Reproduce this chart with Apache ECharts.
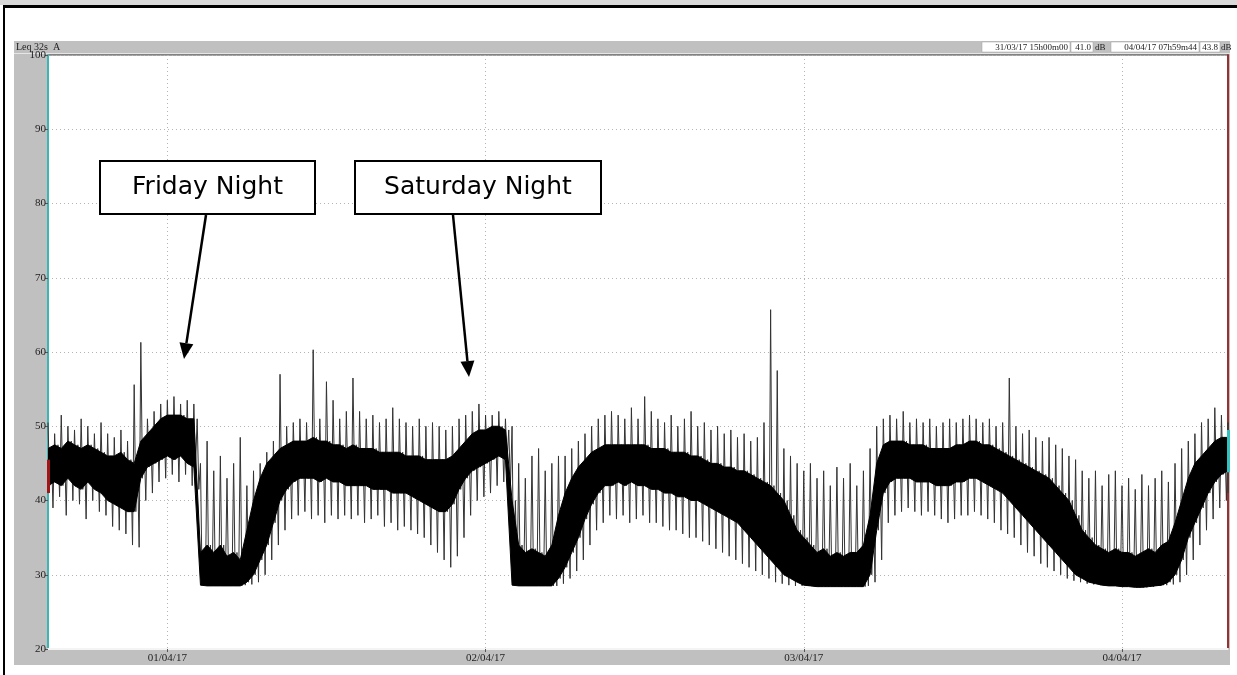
<!DOCTYPE html>
<html><head><meta charset="utf-8">
<script src="https://cdn.jsdelivr.net/npm/echarts@6/dist/echarts.min.js"></script>
<style>html,body{margin:0;padding:0;background:#fff}#c{width:1237px;height:675px}</style>
</head><body><div id="c"></div>
<script>
// ---- text / labels ----
const panelTitle = 'Leq 32s  A';
const startLabel = '31/03/17 15h00m00';
const startValue = '41.0';
const endLabel = '04/04/17 07h59m44';
const endValue = '43.8';
const unitLabel = 'dB';
const dateLabels = ['01/04/17', '02/04/17', '03/04/17', '04/04/17'];
const annotations = ['Friday Night', 'Saturday Night'];
const yTicks = [20, 30, 40, 50, 60, 70, 80, 90, 100];

// ---- data: envelopes of the Leq trace per 30-minute window (dB), from 31/03/17 15:00 ----
const stepHours = 0.5;
const outerHi = [50.5,49,51.5,50,49.5,51,50,49,50.5,49,48.5,49.5,48,55.6,61.3,
  51,52,53,53.5,54,53,53.5,53,45,48,44,46,43,45,48.5,
  42,44,45,46.5,48,57,50,50.5,51,50.5,60.3,51,56,53.5,51,
  52,56.5,52,51,51.5,50.5,51,52.5,51,50.5,50,51,50,50.5,50,49.5,50,51,51.5,52,53,51.5,51.5,52,51,
  50,45,43,46,47,44,45,46,46,47,48,49,50,51,
  51.5,52,51.5,51,52.5,51,54,52,51,50.5,51.5,50,51,52,50,
  50.5,49.5,50,49,49.5,48.5,49,48,48.5,50.5,65.7,57.5,
  47,46,45,44,45,43,44,42,44.5,43,45,42,44,
  47,50,51,51.5,51,52,50.5,51,50.5,51,50,50.5,51,50.5,51,51.5,51,50.5,51,50,50.5,
  56.5,50,49,49.5,48.5,48,48.5,47.5,47,46,45.5,44,43,
  44,42,43.5,44,42,43,41.5,43.5,42,43,44,42.5,45,
  47,48,49,50.5,51,52.5,51.5,50.5];
const outerLo = [39,40.5,38,40,39.5,37.5,40,38.5,38,36.5,36,35.5,34,33.7,
  40,41,42.5,43,43.5,42.5,43.5,42,41.5,28.6,
  28.6,28.5,28.5,28.5,28.5,28.6,
  28.7,29,30,32,34,36,37.5,38,38.5,37.5,38,37,38,37.5,38,
  37.5,38,37,37.5,38,36.5,37,36,36.5,36,35.5,35,34,33,32,31,32.5,35,38,40,40.5,41,42,42.5,42,
  28.6,28.5,28.5,28.5,28.5,28.5,28.5,
  28.8,29.5,30.5,32,34,36,37,
  38,37.5,38,37,37.5,38,37,37,36.5,36,36,35.5,35,35,34.5,
  34,33.5,33,32.5,32,31.5,31,30.5,30,29.5,29,28.8,
  28.6,28.5,28.5,28.5,28.4,28.4,28.4,28.4,28.4,28.4,28.4,28.4,28.5,
  29,32,37,38,38.5,39,38.5,38,38.5,38,37.5,37,37.5,38,38,38.5,38,37.5,37,36,35.5,
  35,34,33,32.5,31.5,31,30.5,30,29.5,29.2,29,28.8,28.7,
  28.6,28.5,28.5,28.4,28.4,28.4,28.3,28.3,28.4,28.5,28.6,28.7,29,
  30,32,34,36,37.5,39,40,41];
const coreHi = [47,47.5,47,48,47.5,47,47.5,47,46.5,46,46,46.5,45.5,45,
  48,49,50,51,51.5,51.5,51.5,51,51,33,
  34,33,34,32.5,33,32,
  36,40,43,45,46,47,47.5,48,48,48,48.5,48,48,47.5,47.5,
  47,47.5,47,47,47,46.5,46.5,46.5,46.5,46,46,46,45.5,45.5,45.5,45.5,46,47,48,49,49.5,49.5,50,50,49.5,
  40,34,33,33.5,33,32.5,34,
  38,41,43,44.5,45.5,46.5,47,
  47.5,47.5,47.5,47.5,47.5,47.5,47.5,47,47,47,46.5,46.5,46.5,46,46,
  45.5,45,45,44.5,44.5,44,44,43.5,43,42.5,42,41,
  40,38,36,35,34,33,33.5,32.5,33,32.5,33,33,34,
  38,45,47.5,48,48,48,47.5,47.5,47.5,47,47,47,47,47.5,47.5,48,48,47.5,47.5,47,46.5,
  46,45.5,45,44.5,44,43.5,43,42,41,40,38,36,35,
  34,33.5,33,33.5,33,33,32.5,33,33.5,33,34,34.5,37,
  40,43,45,46,47,48,48.5,48.5];
const coreLo = [42,42.5,42,43,42,41.5,42.5,41.5,41,40,39.5,39,38.5,38.5,
  43,44.5,45,45.5,46,45.5,46,45,44.5,28.6,
  28.5,28.5,28.5,28.5,28.5,28.5,
  29,30,32,34,37,40,41.5,42.5,43,43,43,42.5,43,42.5,42.5,
  42,42,42,42,41.5,41.5,41.5,41,41,41,40.5,40,39.5,39,38.5,38.5,39.5,41.5,43,44,44.5,45,45.5,46,45.5,
  28.6,28.5,28.5,28.5,28.5,28.5,28.5,
  29.5,31,33,35,37.5,39.5,41,
  42,42,42.5,42,42.5,42,42,41.5,41.5,41,41,40.5,40.5,40,40,
  39.5,39,38.5,38,37.5,37,36,35,34,33,32,31,
  30,29.5,29,28.6,28.5,28.4,28.4,28.4,28.4,28.4,28.4,28.4,28.4,
  30,36,41,42.5,43,43,43,42.5,42.5,42.5,42,42,42,42.5,42.5,43,43,42.5,42,41.5,41,
  40,39,38,37,36,35,34,33,32,31,30,29.5,29,
  28.8,28.6,28.5,28.5,28.4,28.4,28.3,28.3,28.4,28.5,28.6,29,30,
  32,35,37,39,41,42.5,43.5,44];
const cursorStartRange = [41, 45.5];
const cursorEndRange = [43.8, 49.5];

// ---- build ----
const HOUR = 3600e3;
const T0 = Date.UTC(2017, 2, 31, 15, 0, 0);
const TEND = Date.UTC(2017, 3, 4, 7, 59, 44);
const tAt = h => Math.min(T0 + h * HOUR, TEND);
const midnights = dateLabels.map(s => {
  const [d, m, y] = s.split('/').map(Number);
  return Date.UTC(2000 + y, m - 1, d);
});

// trace: within each window visit max, core low, core high, min
const zig = [];
outerHi.forEach((v, k) => {
  const t = k * stepHours, q = stepHours / 4;
  zig.push([tAt(t), v]);
  zig.push([tAt(t + q), coreLo[k]]);
  zig.push([tAt(t + 2 * q), coreHi[k]]);
  zig.push([tAt(t + 3 * q), outerLo[k]]);
});

const serif = '"Liberation Serif", "Times New Roman", serif';
const sans = '"DejaVu Sans", "Liberation Sans", sans-serif';

function arrow(x1, y1, x2, y2) {
  const dx = x2 - x1, dy = y2 - y1, L = Math.hypot(dx, dy);
  const ux = dx / L, uy = dy / L, hl = 16, hw = 7;
  const bx = x2 - ux * hl, by = y2 - uy * hl;
  return [
    {type: 'line', z: 100, shape: {x1, y1, x2: bx, y2: by}, style: {stroke: '#000', lineWidth: 2.5}},
    {type: 'polygon', z: 100, shape: {points: [[x2, y2], [bx - uy * hw, by + ux * hw], [bx + uy * hw, by - ux * hw]]}, style: {fill: '#000'}}
  ];
}
function box(x, y, w, h, text) {
  return [
    {type: 'rect', z: 100, shape: {x, y, width: w, height: h}, style: {fill: '#fff', stroke: '#000', lineWidth: 2}},
    {type: 'text', z: 101, x: x + w / 2, y: y + h / 2, style: {text, font: '25px ' + sans, fill: '#000', align: 'center', verticalAlign: 'middle'}}
  ];
}
function infoBox(x, w, text) {
  return [
    {type: 'rect', z: 5, shape: {x, y: 42, width: w, height: 10}, style: {fill: '#fff', stroke: '#a0a0a0', lineWidth: 0.5}},
    {type: 'text', z: 6, x: x + w - 2, y: 47.5, style: {text, font: '9px ' + serif, fill: '#222', align: 'right', verticalAlign: 'middle'}}
  ];
}

const graphic = [
  {type: 'rect', z: -10, shape: {x: 0, y: 0, width: 1237, height: 5}, style: {fill: '#d9d9d9'}},
  {type: 'rect', z: -10, shape: {x: 3, y: 5, width: 1234, height: 3}, style: {fill: '#000'}},
  {type: 'rect', z: -10, shape: {x: 3, y: 5, width: 2, height: 670}, style: {fill: '#000'}},
  {type: 'rect', z: -10, shape: {x: 14, y: 41, width: 1216, height: 624}, style: {fill: '#c0c0c0'}},
  {type: 'rect', z: -9, shape: {x: 14, y: 53, width: 1216, height: 1}, style: {fill: '#e6e6e6'}},
  {type: 'text', z: 5, x: 16, y: 47.5, style: {text: panelTitle, font: '10px ' + serif, fill: '#222', verticalAlign: 'middle'}},
  ...infoBox(982, 88, startLabel),
  ...infoBox(1071, 22, startValue),
  {type: 'text', z: 6, x: 1095, y: 47.5, style: {text: unitLabel, font: '9px ' + serif, fill: '#222', verticalAlign: 'middle'}},
  ...infoBox(1111, 88, endLabel),
  ...infoBox(1200, 20, endValue),
  {type: 'text', z: 6, x: 1221, y: 47.5, style: {text: unitLabel, font: '9px ' + serif, fill: '#222', verticalAlign: 'middle'}},
  ...box(100, 161, 215, 53, annotations[0]),
  ...box(355, 161, 246, 53, annotations[1]),
  ...arrow(206, 215, 184, 359),
  ...arrow(453, 215, 469, 377)
];

const chart = echarts.init(document.getElementById('c'), null, {renderer: 'canvas'});
chart.setOption({
  animation: false,
  useUTC: true,
  backgroundColor: 'transparent',
  graphic,
  grid: {left: 48, right: 9, top: 55, bottom: 26, show: true, backgroundColor: '#fff', borderColor: '#444', borderWidth: 1, outerBoundsMode: 'none', containLabel: false},
  xAxis: {
    type: 'time', min: T0, max: TEND, minInterval: 12 * HOUR, maxInterval: 12 * HOUR, splitNumber: 7,
    axisLine: {show: true, lineStyle: {color: '#f4f4f4', width: 2}},
    axisTick: {show: true, length: 3, lineStyle: {color: '#555'}},
    axisLabel: {
      show: true, margin: 4, color: '#222', fontFamily: serif, fontSize: 11, hideOverlap: false,
      formatter: v => { const i = midnights.indexOf(Number(v)); return i >= 0 ? dateLabels[i] : ''; }
    },
    splitLine: {show: true, lineStyle: {color: '#b4b4b4', type: [1, 3], width: 1}}
  },
  yAxis: [{
    type: 'value', min: yTicks[0], max: yTicks[yTicks.length - 1], interval: 10,
    axisLine: {show: true, lineStyle: {color: '#3bb6b6', width: 2}},
    axisTick: {show: true, length: 3, lineStyle: {color: '#555'}},
    axisLabel: {margin: 2, color: '#222', fontFamily: serif, fontSize: 11},
    splitLine: {show: true, lineStyle: {color: '#b4b4b4', type: [1, 3], width: 1}}
  }, {
    type: 'value', position: 'right', min: yTicks[0], max: yTicks[yTicks.length - 1], interval: 10,
    axisLine: {show: true, lineStyle: {color: '#9a2f2f', width: 2}},
    axisTick: {show: false}, axisLabel: {show: false}, splitLine: {show: false}
  }],
  series: [
    {
      type: 'line', data: zig, showSymbol: false, symbol: 'none', silent: true, z: 3,
      lineStyle: {color: '#333', width: 1},
      markLine: {
        symbol: 'none', silent: true, label: {show: false}, animation: false,
        data: [
          [{coord: [T0, cursorStartRange[0]], lineStyle: {color: '#a01515', width: 3, type: 'solid'}}, {coord: [T0, cursorStartRange[1]]}],
          [{coord: [TEND, cursorEndRange[0]], lineStyle: {color: '#35c0c0', width: 3, type: 'solid'}}, {coord: [TEND, cursorEndRange[1]]}]
        ]
      }
    },
    {
      type: 'custom', silent: true, z: 4, clip: true,
      data: [[T0, coreLo[0]]],
      renderItem: (params, api) => {
        if (params.dataIndex !== 0) return null;
        const pts = [];
        for (let k = 0; k < coreHi.length; k++) pts.push(api.coord([tAt(k * stepHours), coreHi[k]]));
        for (let k = coreLo.length - 1; k >= 0; k--) pts.push(api.coord([tAt(k * stepHours), coreLo[k]]));
        return {type: 'polygon', shape: {points: pts}, style: {fill: '#000', stroke: '#000', lineWidth: 1}};
      }
    }
  ]
});
</script>
</body></html>
